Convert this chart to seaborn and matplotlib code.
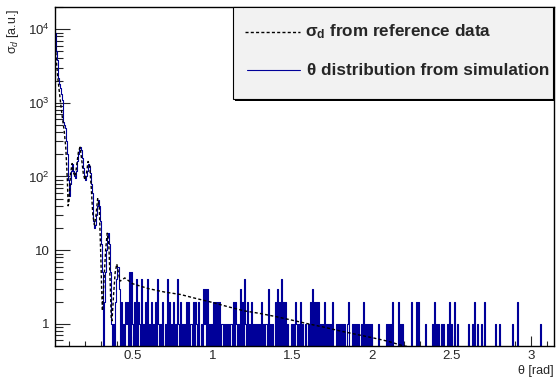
import matplotlib
matplotlib.use("Agg")
import matplotlib.pyplot as plt
from matplotlib.patches import Rectangle
from matplotlib.ticker import FixedLocator, FixedFormatter, MultipleLocator, LogLocator, NullFormatter
import numpy as np
import pandas as pd
import seaborn as sns

# --- Data ---
N_BINS = 500                      # histogram: 500 bins over [0, pi]
FIRST_BIN = 2                     # x range starts at bin 2

# simulated theta histogram, bins 2..65 (the forward peak)
HEAD_COUNTS = [9000, 5000, 3800, 2200, 1800, 1600, 1300, 1100, 550, 500,
               450, 300, 200, 90, 55, 80, 120, 150, 120, 100,
               95, 120, 160, 200, 240, 250, 230, 180, 130, 100,
               90, 100, 120, 150, 140, 110, 80, 60, 25, 20,
               22, 30, 40, 48, 40, 25, 12, 5, 0, 2,
               5, 10, 15, 17, 12, 5, 1, 0, 1, 0,
               2, 4, 6, 6]

# bins 66..499, one digit per bin (counts are small in the tail)
TAIL_ROWS = [
    "3020102120", "5051020402", "1040102040", "1020102041", "0102001040",
    "2010201041", "0201010",
    "2020110202", "1020010313", "0301010202", "0202011010", "1010110202",
    "1010302041", "0201020101", "0101020101", "1030101002",
    "0302040202", "0100010102", "1010201010", "0102030202", "0201010201",
    "0101020001", "0101010100", "1200010101", "0100102010",
    "1010100000", "0100000001", "0101020000", "0201010000", "0000200002",
    "0200000010", "0000010201", "0100101000", "1020100200",
    "1000000000", "0100010200", "1000100200", "0000000010", "0010000000",
    "0000010000", "2000000000", "0000000000", "0001000000", "0000000",
]

# reference cross section sigma_d(theta)
REF_THETA = [0.0125, 0.02, 0.03, 0.04, 0.05, 0.06, 0.07, 0.08, 0.09, 0.095,
             0.10, 0.11, 0.12, 0.13, 0.14, 0.15, 0.16, 0.17, 0.18, 0.19,
             0.20, 0.21, 0.22, 0.23, 0.24, 0.245, 0.25, 0.26, 0.27, 0.28,
             0.29, 0.30, 0.305, 0.31, 0.32, 0.33, 0.34, 0.35, 0.36, 0.365,
             0.37, 0.38, 0.39, 0.40, 0.41, 0.42, 0.43, 0.45, 0.5, 0.6,
             0.7, 0.8, 0.9, 1.0, 1.1, 1.2, 1.3, 1.4, 1.5, 1.6,
             1.7, 1.8, 1.9, 2.0, 2.1, 2.2, 2.3, 2.4]
REF_SIGMA = [8000, 4000, 2200, 1400, 900, 600, 420, 250, 90, 40,
             45, 110, 150, 110, 100, 150, 220, 250, 170, 110,
             90, 110, 160, 140, 70, 45, 30, 22, 30, 50,
             40, 8, 3, 1.5, 4, 10, 17, 12, 3, 1.2,
             1.1, 2.5, 5, 6.5, 5, 3.8, 3.9, 4.2, 3.5, 3.0,
             2.7, 2.5, 2.2, 1.95, 1.7, 1.5, 1.38, 1.25, 1.12, 1.0,
             0.9, 0.8, 0.72, 0.65, 0.58, 0.5, 0.47, 0.43]

LEGEND_REF = r"σ$_{\mathbf{d}}$ from reference data"
LEGEND_SIM = "θ distribution from simulation"
BLUE = "#000099"

# --- Style ---
sns.set_style("ticks")
plt.rcParams.update({
    "font.family": ["Liberation Sans", "DejaVu Sans"],
    "mathtext.fontset": "custom",
    "mathtext.rm": "Liberation Sans",
    "mathtext.it": "Liberation Sans:italic",
    "mathtext.bf": "Liberation Sans:bold",
    "axes.linewidth": 1.0,
    "axes.edgecolor": "black",
})

bin_w = np.pi / N_BINS
counts = np.array(HEAD_COUNTS + [int(c) for c in "".join(TAIL_ROWS)], dtype=float)
edges = np.arange(FIRST_BIN, FIRST_BIN + len(counts) + 1) * bin_w
hist_df = pd.DataFrame({"theta": 0.5 * (edges[:-1] + edges[1:]), "count": counts})
ref_df = pd.DataFrame({"theta": REF_THETA, "sigma": REF_SIGMA})

fig = plt.figure(figsize=(5.58, 3.78), dpi=100)
ax = fig.add_axes([55 / 558, 1 - 346 / 378, 499 / 558, 339 / 378])

sns.histplot(data=hist_df, x="theta", weights="count", bins=list(edges),
             element="step", fill=False, color=BLUE, linewidth=0.8, ax=ax)
sns.lineplot(data=ref_df, x="theta", y="sigma", color="black", linewidth=1.0,
             linestyle=(0, (2.2, 1.6)), ax=ax)

ax.set_yscale("log")
ax.set_xlim(edges[0], np.pi)
ax.set_ylim(0.5, 2e4)

# ROOT-like axes: ticks inside, only bottom / left
ax.tick_params(which="both", direction="in", top=False, right=False, labelsize=9.5)
ax.tick_params(axis="y", which="major", length=10.5, width=0.8, pad=4)
ax.tick_params(axis="y", which="minor", length=5.5, width=0.8)
ax.tick_params(axis="x", which="major", length=7, width=0.8, pad=3)
ax.tick_params(axis="x", which="minor", length=3.5, width=0.8)
ax.xaxis.set_major_locator(FixedLocator([0.5, 1, 1.5, 2, 2.5, 3]))
ax.xaxis.set_major_formatter(FixedFormatter(["0.5", "1", "1.5", "2", "2.5", "3"]))
ax.xaxis.set_minor_locator(MultipleLocator(0.1))
ax.yaxis.set_major_locator(FixedLocator([1, 10, 100, 1000, 10000]))
ax.yaxis.set_major_formatter(FixedFormatter(["1", "10", "$10^{2}$", "$10^{3}$", "$10^{4}$"]))
ax.yaxis.set_minor_locator(LogLocator(base=10, subs=np.arange(2, 10)))
ax.yaxis.set_minor_formatter(NullFormatter())
for side in ["top", "right"]:
    ax.spines[side].set_visible(True)

ax.set_xlabel("θ [rad]", loc="right", fontsize=9)
ax.xaxis.set_label_coords(1.0, -0.056)
ax.xaxis.label.set_va("top")
ax.set_ylabel("σ$_d$ [a.u.]", loc="top", fontsize=9)
ax.yaxis.set_label_coords(-0.068, 0.995)

# legend box drawn ROOT style
ax.add_patch(Rectangle((0.361, 0.722), 0.641, 0.271, transform=ax.transAxes,
                       facecolor="black", edgecolor="none", clip_on=False, zorder=4))
ax.add_patch(Rectangle((0.357, 0.729), 0.641, 0.271, transform=ax.transAxes,
                       facecolor="#f2f2f2", edgecolor="black", linewidth=0.8,
                       clip_on=False, zorder=5))
ax.plot([0.381, 0.491], [0.926, 0.926], transform=ax.transAxes, color="black",
        linewidth=1.0, linestyle=(0, (2.2, 1.6)), zorder=6)
ax.plot([0.385, 0.491], [0.814, 0.814], transform=ax.transAxes, color=BLUE,
        linewidth=0.8, zorder=6)
ax.text(0.501, 0.926, LEGEND_REF, transform=ax.transAxes, fontsize=12.3,
        fontweight="bold", va="center", ha="left", zorder=6)
ax.text(0.505, 0.814, LEGEND_SIM, transform=ax.transAxes, fontsize=12.3,
        fontweight="bold", va="center", ha="left", zorder=6)

fig.savefig("out.png", dpi=100)
